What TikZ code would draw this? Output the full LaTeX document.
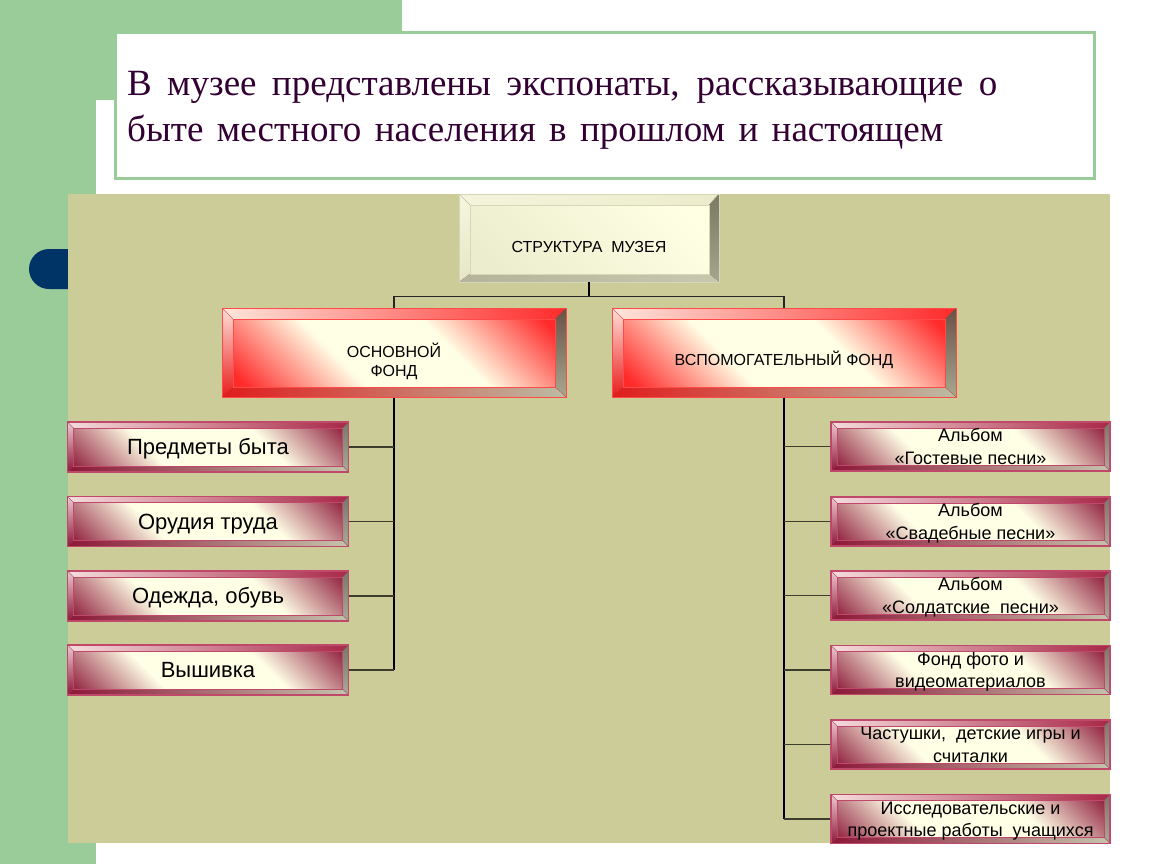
\documentclass[tikz,border=0pt]{standalone}
\usepackage{fontspec}
\setmainfont{Liberation Serif}
\newfontfamily\arial{Liberation Sans}
\usetikzlibrary{calc}

\definecolor{bggreen}{HTML}{99CC99}
\definecolor{tan}{HTML}{CCCC99}
\definecolor{navy}{HTML}{003366}
\definecolor{ttl}{HTML}{330033}
% olive/cream box
\definecolor{oTopL}{HTML}{F4F4DC}\definecolor{oTopR}{HTML}{ECECCC}
\definecolor{oLeftT}{HTML}{F6F6E0}\definecolor{oLeftB}{HTML}{E6E6C6}
\definecolor{oRightT}{HTML}{7A7A62}\definecolor{oRightB}{HTML}{A6A68E}
\definecolor{oBotL}{HTML}{B4B49A}\definecolor{oBotR}{HTML}{C8C8AE}
\definecolor{oLine}{HTML}{D6D6B8}
\definecolor{oF1}{HTML}{FFFFE4}\definecolor{oF2}{HTML}{ECECCE}
% red box
\definecolor{rdTopL}{HTML}{FFE6DC}\definecolor{rdTopR}{HTML}{FF2A2A}
\definecolor{rdLeftT}{HTML}{FFE0D8}\definecolor{rdLeftB}{HTML}{E81C1C}
\definecolor{rdRightT}{HTML}{6A5046}\definecolor{rdRightB}{HTML}{A8A890}
\definecolor{rdBotL}{HTML}{E01C1C}\definecolor{rdBotR}{HTML}{BCBCA4}
\definecolor{rdLine}{HTML}{FF4A4A}
\definecolor{rA}{HTML}{FF2A2A}\definecolor{cr}{HTML}{FFFFE6}
% maroon box
\definecolor{mrTopL}{HTML}{F4DCDC}\definecolor{mrTopR}{HTML}{A82848}
\definecolor{mrLeftT}{HTML}{EEC8D0}\definecolor{mrLeftB}{HTML}{8C1838}
\definecolor{mrRightT}{HTML}{787868}\definecolor{mrRightB}{HTML}{AAAA98}
\definecolor{mrBotL}{HTML}{8C1838}\definecolor{mrBotR}{HTML}{C4C4AC}
\definecolor{mrLine}{HTML}{C0486A}
\definecolor{mA}{HTML}{8C1838}

\pgfdeclareverticalshading{olvface}{100bp}{color(0bp)=(oF2); color(25bp)=(oF2); color(75bp)=(oF1); color(100bp)=(oF1)}
\pgfdeclareverticalshading{redface}{100bp}{color(0bp)=(rA); color(20bp)=(rA); color(40bp)=(cr); color(60bp)=(cr); color(80bp)=(rA); color(100bp)=(rA)}
\pgfdeclareverticalshading{mrface}{100bp}{color(0bp)=(mA); color(16bp)=(mA); color(37bp)=(cr); color(63bp)=(cr); color(84bp)=(mA); color(100bp)=(mA)}

\newcommand\bevelpaint[5]{%
  \coordinate (bNW) at (path picture bounding box.north west);
  \coordinate (bNE) at (path picture bounding box.north east);
  \coordinate (bSE) at (path picture bounding box.south east);
  \coordinate (bSW) at (path picture bounding box.south west);
  \coordinate (iNW) at ($(bNW)+(#2pt,-#3pt)$);
  \coordinate (iNE) at ($(bNE)+(-#4pt,-#3pt)$);
  \coordinate (iSE) at ($(bSE)+(-#4pt,#5pt)$);
  \coordinate (iSW) at ($(bSW)+(#2pt,#5pt)$);
  \fill[left color=#1TopL, right color=#1TopR] (bNW)--(bNE)--(iNE)--(iNW)--cycle;
  \fill[top color=#1LeftT, bottom color=#1LeftB] (bNW)--(iNW)--(iSW)--(bSW)--cycle;
  \fill[top color=#1RightT, bottom color=#1RightB] (bNE)--(bSE)--(iSE)--(iNE)--cycle;
  \fill[left color=#1BotL, right color=#1BotR] (bSW)--(iSW)--(iSE)--(bSE)--cycle;
  \draw[#1Line, line width=0.8pt] (iNW) rectangle (iSE);
  \draw[#1Line, line width=0.4pt, opacity=0.6] (bNW)--(iNW) (bNE)--(iNE) (bSE)--(iSE) (bSW)--(iSW);
}
% text lowered inside its box by #1 pt
\newcommand\tx[2]{\raisebox{-#1pt}[\height][\depth]{\begin{tabular}{@{}c@{}}#2\end{tabular}}}

\tikzset{
  boxbase/.style={rectangle, inner sep=0pt, text=black},
  olvbox/.style={boxbase, draw=oLine, line width=0.8pt, shade, shading=olvface, shading angle=-45,
    path picture={\bevelpaint{o}{11}{11}{10}{8}}, font=\arial\fontsize{16}{19}\selectfont,
    minimum width=260pt, minimum height=88pt},
  redbox/.style={boxbase, draw=rdLine, line width=1pt, shade, shading=redface, shading angle=-45,
    path picture={\bevelpaint{rd}{11}{11}{11}{10}}, font=\arial\fontsize{16}{19}\selectfont,
    minimum width=344pt, minimum height=89pt},
  mrbox/.style={boxbase, draw=mrLine, line width=1.5pt, shade, shading=mrface, shading angle=-45,
    path picture={\bevelpaint{mr}{6}{6}{6}{6}}},
  lbox/.style={mrbox, minimum width=281pt, minimum height=50pt, font=\arial\fontsize{22}{24}\selectfont},
  rbox/.style={mrbox, minimum width=279pt, minimum height=49pt, font=\arial\fontsize{18}{22.5}\selectfont},
  conn/.style={draw=black, line width=1.8pt},
  hconn/.style={draw=black!85, line width=1.4pt},
  branch/.style={draw=black!70!tan, line width=1.5pt},
  titletext/.style={anchor=base west, text=ttl, inner sep=0pt, font=\fontsize{37}{42}\selectfont},
}

\begin{document}
\begin{tikzpicture}[x=1pt,y=-1pt]
\useasboundingbox (0,0) rectangle (1150,864);
% background
\fill[white] (0,0) rectangle (1150,864);
\fill[bggreen] (0,0) rectangle (402,100);
\fill[bggreen] (0,0) rectangle (96,864);
\fill[white, rounded corners=20pt] (96,100) rectangle (1150,864);
\fill[white] (500,100) rectangle (1150,864);
\fill[white] (96,500) rectangle (1150,864);
\fill[white] (402,0) rectangle (1150,100);
\fill[navy, rounded corners=20pt] (29,249) rectangle (120,289);
\fill[tan] (68,194) rectangle (1110,843);

% title box
\node[draw=bggreen, line width=3pt, fill=white, minimum width=979pt, minimum height=145pt, inner sep=0pt] (titlebox) at (604.5,105.5) {};
\node[titletext] (t1) at (127,96) {\makebox[870pt][s]{В музее представлены экспонаты, рассказывающие о}};
\node[titletext] (t2) at (127,141) {\makebox[816pt][s]{быте местного населения в прошлом и настоящем}};

% boxes
\node[olvbox] (top) at (589,238) {\tx{11}{СТРУКТУРА\ \ МУЗЕЯ}};
\node[redbox] (osn) at (394,352.5) {\tx{10}{ОСНОВНОЙ\\ФОНД}};
\node[redbox] (vsp) at (784,352.5) {\tx{9}{ВСПОМОГАТЕЛЬНЫЙ ФОНД}};

\node[lbox] (l1) at (208,447) {\tx{3}{Предметы быта}};
\node[lbox] (l2) at (208,521.5) {\tx{3}{Орудия труда}};
\node[lbox] (l3) at (208,596) {\tx{3}{Одежда, обувь}};
\node[lbox] (l4) at (208,670) {\tx{3}{Вышивка}};

\node[rbox] (r1) at (970.5,446.5) {\tx{2}{Альбом\\«Гостевые песни»}};
\node[rbox] (r2) at (970.5,521.5) {\tx{2}{Альбом\\«Свадебные песни»}};
\node[rbox] (r3) at (970.5,595.5) {\tx{2}{Альбом\\«Солдатские\ \ песни»}};
\node[rbox] (r4) at (970.5,670) {\tx{2}{Фонд фото и\\видеоматериалов}};
\node[rbox] (r5) at (970.5,744.5) {\tx{2}{Частушки,\ \ детские игры и\\считалки}};
\node[rbox] (r6) at (970.5,819) {\tx{2}{Исследовательские и\\проектные работы\ \ учащихся}};

% connectors
\draw[conn] (top.south) -- ++(0,14) coordinate (jt);
\draw[hconn] (osn.north) |- (jt) -| (vsp.north);
\draw[conn] (osn.south) -- (osn.south |- l4.east) coordinate (jl);
\draw[conn] (vsp.south) -- (vsp.south |- r6.west) coordinate (jr);
\foreach \i in {1,2,3,4} { \draw[branch] (l\i.east) -- (l\i.east -| osn.south); }
\foreach \i in {1,2,3,4,5,6} { \draw[branch] (r\i.west) -- (r\i.west -| vsp.south); }
\end{tikzpicture}
\end{document}
